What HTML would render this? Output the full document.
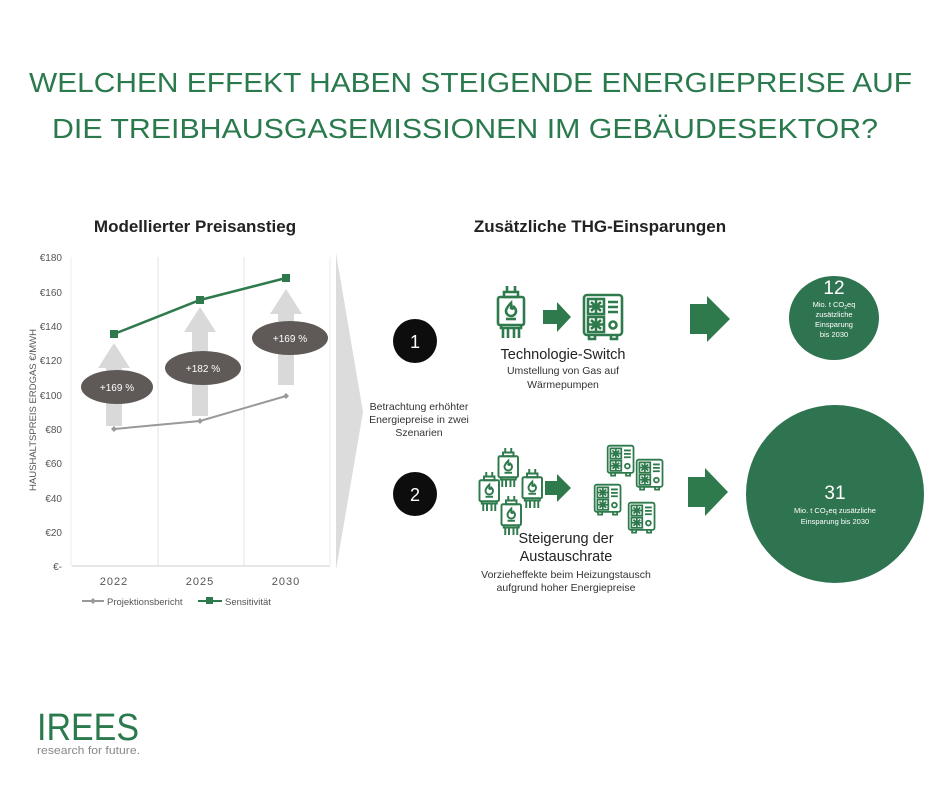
<!DOCTYPE html>
<html><head><meta charset="utf-8"><style>
html,body{margin:0;padding:0;background:#fff;}
svg text{font-family:"Liberation Sans",sans-serif;}
</style></head><body>
<svg width="940" height="788" viewBox="0 0 940 788" xmlns="http://www.w3.org/2000/svg">
<defs>
<g id="boiler" fill="none" stroke="#2f7a4c" stroke-width="2.6">
 <path d="M11 0v6M19 0v6M8 6h14v5H8z"/>
 <rect x="2" y="11" width="26" height="28" rx="2"/>
 <path d="M10 33h10"/>
 <path d="M15 17c-4 4-5 6-5 8a5 5 0 0 0 10 0c0-2-1-3-2-4-1 2-2 2-3 1 1-2 0-4 0-5z"/>
 <path d="M5 39v3h20v-3M7 42v10M12 42v10M18 42v10M23 42v10"/>
</g>
<g id="hp" fill="none" stroke="#2f7a4c" stroke-width="2.6">
 <rect x="1" y="1" width="38" height="40" rx="3"/>
 <rect x="5" y="5" width="16" height="15"/>
 <rect x="5" y="23" width="16" height="15"/>
 <path d="M8 8l10 9M18 8l-10 9M13 6v13M6 12.5h14M8 26l10 9M18 26l-10 9M13 24v13M6 30.5h14"/>
 <path d="M25 8h10M25 13h10M25 18h10"/>
 <circle cx="30" cy="31" r="3.5"/>
 <path d="M6 41v4h6v-4M28 41v4h6v-4"/>
</g>
</defs>
<text x="29" y="92" font-size="28" fill="#2a7a4e" textLength="883" lengthAdjust="spacingAndGlyphs">WELCHEN EFFEKT HABEN STEIGENDE ENERGIEPREISE AUF</text>
<text x="52" y="138" font-size="28" fill="#2a7a4e" textLength="826" lengthAdjust="spacingAndGlyphs">DIE TREIBHAUSGASEMISSIONEN IM GEBÄUDESEKTOR?</text>

<text x="195" y="232" text-anchor="middle" font-size="17" font-weight="bold" fill="#222">Modellierter Preisanstieg</text>
<text x="600" y="232" text-anchor="middle" font-size="17" font-weight="bold" fill="#222">Zusätzliche THG-Einsparungen</text>

<!-- chart -->
<g font-size="10" fill="#555" text-anchor="end">
<text x="62" y="261">€180</text><text x="62" y="296">€160</text><text x="62" y="330">€140</text>
<text x="62" y="364">€120</text><text x="62" y="399">€100</text><text x="62" y="433">€80</text>
<text x="62" y="467">€60</text><text x="62" y="502">€40</text><text x="62" y="536">€20</text><text x="62" y="570">€-</text>
</g>
<text transform="translate(36,410) rotate(-90)" text-anchor="middle" font-size="9.5" fill="#555">HAUSHALTSPREIS ERDGAS €/MWH</text>
<line x1="72" y1="566" x2="330" y2="566" stroke="#ccc"/>
<line x1="158" y1="257" x2="158" y2="566" stroke="#e3e3e3"/>
<line x1="244" y1="257" x2="244" y2="566" stroke="#e3e3e3"/>
<line x1="71" y1="257" x2="71" y2="566" stroke="#eee"/>
<line x1="330" y1="257" x2="330" y2="566" stroke="#eee"/>
<g font-size="11" fill="#555" text-anchor="middle" letter-spacing="1">
<text x="114" y="585">2022</text><text x="200" y="585">2025</text><text x="286" y="585">2030</text>
</g>
<g fill="#d9d9d9">
<polygon points="106,426 122,426 122,368 130,368 114,343 98,368 106,368"/>
<polygon points="192,416 208,416 208,332 216,332 200,307 184,332 192,332"/>
<polygon points="278,385 294,385 294,314 302,314 286,289 270,314 278,314"/>
</g>
<polyline points="114,429 200,421 286,396" fill="none" stroke="#999" stroke-width="2"/>
<g fill="#999"><path d="M114 426l3 3-3 3-3-3z"/><path d="M200 418l3 3-3 3-3-3z"/><path d="M286 393l3 3-3 3-3-3z"/></g>
<polyline points="114,334 200,300 286,278" fill="none" stroke="#2f7a4c" stroke-width="2.5"/>
<g fill="#2f7a4c"><rect x="110" y="330" width="8" height="8"/><rect x="196" y="296" width="8" height="8"/><rect x="282" y="274" width="8" height="8"/></g>
<g fill="#5f5a57"><ellipse cx="117" cy="387" rx="36" ry="17"/><ellipse cx="203" cy="368" rx="38" ry="17"/><ellipse cx="290" cy="338" rx="38" ry="17"/></g>
<g font-size="10" fill="#fff" text-anchor="middle"><text x="117" y="391">+169 %</text><text x="203" y="372">+182 %</text><text x="290" y="342">+169 %</text></g>
<line x1="82" y1="601" x2="104" y2="601" stroke="#999" stroke-width="2"/><path d="M93 598l3 3-3 3-3-3z" fill="#999"/>
<text x="107" y="605" font-size="9.5" fill="#555">Projektionsbericht</text>
<line x1="198" y1="601" x2="222" y2="601" stroke="#2f7a4c" stroke-width="2"/><rect x="206" y="597" width="7" height="7" fill="#2f7a4c"/>
<text x="225" y="605" font-size="9.5" fill="#555">Sensitivität</text>

<!-- chevron -->
<polygon points="336,253 363,412 336,570" fill="#dcdcdc"/>
<text font-size="10.5" fill="#333" text-anchor="middle"><tspan x="419" y="410">Betrachtung erhöhter</tspan><tspan x="419" y="423">Energiepreise in zwei</tspan><tspan x="419" y="436">Szenarien</tspan></text>
<circle cx="415" cy="341" r="22" fill="#0d0d0d"/><text x="415" y="348" text-anchor="middle" font-size="18" fill="#fff">1</text>
<circle cx="415" cy="494" r="22" fill="#0d0d0d"/><text x="415" y="501" text-anchor="middle" font-size="18" fill="#fff">2</text>

<!-- scenario 1 -->
<use href="#boiler" x="496" y="286"/>
<use href="#hp" x="583" y="294"/>
<polygon points="543,310 557,310 557,302 571,317 557,332 557,324 543,324" fill="#2f7a4c"/>
<text x="563" y="359" text-anchor="middle" font-size="14.5" fill="#222">Technologie-Switch</text>
<text x="563" y="374" text-anchor="middle" font-size="10.5" fill="#333">Umstellung von Gas auf</text>
<text x="563" y="388" text-anchor="middle" font-size="10.5" fill="#333">Wärmepumpen</text>
<polygon points="690,304 707,304 707,296 730,319 707,342 707,334 690,334" fill="#2f7a4c"/>
<ellipse cx="834" cy="318" rx="45" ry="42" fill="#2f7450"/>
<text x="834" y="294" text-anchor="middle" font-size="19" fill="#fff">12</text>
<g font-size="7.5" fill="#fff" text-anchor="middle"><text x="834" y="307">Mio. t CO<tspan font-size="5" dy="2">2</tspan><tspan dy="-2">eq</tspan></text><text x="834" y="317">zusätzliche</text><text x="834" y="327">Einsparung</text><text x="834" y="337">bis 2030</text></g>

<!-- scenario 2 -->
<g transform="translate(497,448) scale(0.75)"><use href="#boiler"/></g>
<g transform="translate(478,472) scale(0.75)"><use href="#boiler"/></g>
<g transform="translate(521,469) scale(0.75)"><use href="#boiler"/></g>
<g transform="translate(500,496) scale(0.75)"><use href="#boiler"/></g>
<polygon points="545,481 557,481 557,474 571,488 557,502 557,495 545,495" fill="#2f7a4c"/>
<g transform="translate(607,445) scale(0.68)"><use href="#hp"/></g>
<g transform="translate(636,459) scale(0.68)"><use href="#hp"/></g>
<g transform="translate(594,484) scale(0.68)"><use href="#hp"/></g>
<g transform="translate(628,502) scale(0.68)"><use href="#hp"/></g>
<text x="566" y="543" text-anchor="middle" font-size="14.5" fill="#222">Steigerung der</text>
<text x="566" y="561" text-anchor="middle" font-size="14.5" fill="#222">Austauschrate</text>
<text x="566" y="578" text-anchor="middle" font-size="10.5" fill="#333">Vorzieheffekte beim Heizungstausch</text>
<text x="566" y="591" text-anchor="middle" font-size="10.5" fill="#333">aufgrund hoher Energiepreise</text>
<polygon points="688,477 705,477 705,468 728,492 705,516 705,507 688,507" fill="#2f7a4c"/>
<circle cx="835" cy="494" r="89" fill="#2f7450"/>
<text x="835" y="499" text-anchor="middle" font-size="19" fill="#fff">31</text>
<g font-size="7.5" fill="#fff" text-anchor="middle"><text x="835" y="513">Mio. t CO<tspan font-size="5" dy="2">2</tspan><tspan dy="-2">eq zusätzliche</tspan></text><text x="835" y="524">Einsparung bis 2030</text></g>

<!-- logo -->
<text x="37" y="740" font-size="38" fill="#2a7a4e" textLength="102" lengthAdjust="spacingAndGlyphs">IREES</text>
<text x="37" y="754" font-size="11" fill="#888" textLength="103" lengthAdjust="spacingAndGlyphs">research for future.</text>
</svg>
</body></html>
